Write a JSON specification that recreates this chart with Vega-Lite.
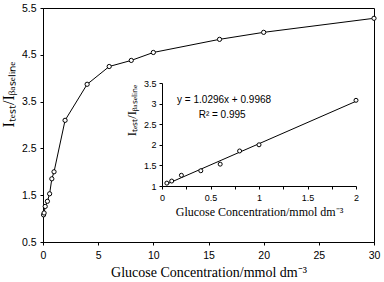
{
  "$schema": "https://vega.github.io/schema/vega-lite/v6.json",
  "width": 331,
  "height": 234,
  "autosize": "none",
  "padding": {"left": 43, "top": 8, "right": 10, "bottom": 40},
  "background": "white",
  "config": {
    "view": {"stroke": "black", "strokeWidth": 1},
    "axis": {
      "domainColor": "black", "tickColor": "black", "labelColor": "black", "titleColor": "black",
      "grid": false, "labelFont": "Liberation Sans", "titleFont": "Liberation Serif",
      "titleFontWeight": "normal", "tickSize": 3, "labelFlush": false, "labelOverlap": false
    }
  },
  "datasets": {
    "main": [
      {"c": 0.05, "r": 1.08}, {"c": 0.1, "r": 1.12}, {"c": 0.2, "r": 1.26}, {"c": 0.4, "r": 1.37},
      {"c": 0.6, "r": 1.53}, {"c": 0.8, "r": 1.85}, {"c": 1.0, "r": 2.0}, {"c": 2, "r": 3.1},
      {"c": 4, "r": 3.87}, {"c": 6, "r": 4.25}, {"c": 8, "r": 4.38}, {"c": 10, "r": 4.55},
      {"c": 16, "r": 4.83}, {"c": 20, "r": 4.98}, {"c": 30, "r": 5.28}
    ],
    "inset": [
      {"c": 0.05, "r": 1.07}, {"c": 0.1, "r": 1.12}, {"c": 0.2, "r": 1.26}, {"c": 0.4, "r": 1.37},
      {"c": 0.6, "r": 1.53}, {"c": 0.8, "r": 1.85}, {"c": 1.0, "r": 2.0}, {"c": 2, "r": 3.08}
    ],
    "fit": [{"c": 0.05, "r": 1.048}, {"c": 2, "r": 3.056}],
    "notes": [
      {"c": 0.64, "r": 3.08, "label": "y = 1.0296x + 0.9968"},
      {"c": 0.62, "r": 2.72, "label": "R² = 0.995"}
    ]
  },
  "layer": [
    {
      "layer": [
        {
          "data": {"name": "main"},
          "mark": {"type": "line", "color": "black", "strokeWidth": 1},
          "encoding": {
            "x": {"field": "c", "type": "quantitative",
              "scale": {"domain": [0, 30], "nice": false},
              "axis": {"orient": "bottom", "values": [0, 2.5, 5, 7.5, 10, 12.5, 15, 17.5, 20, 22.5, 25, 27.5, 30],
                "labelExpr": "datum.value % 5 == 0 ? format(datum.value, 'd') : ''",
                "labelFontSize": 10.5, "labelPadding": 5,
                "title": "Glucose Concentration/mmol dm⁻³", "titleFontSize": 14, "titlePadding": 5}},
            "y": {"field": "r", "type": "quantitative",
              "scale": {"domain": [0.5, 5.5], "nice": false, "zero": false},
              "axis": {"orient": "left", "values": [0.5, 1, 1.5, 2, 2.5, 3, 3.5, 4, 4.5, 5, 5.5],
                "labelExpr": "datum.value % 1 != 0 ? format(datum.value, '.1f') : ''",
                "labelFontSize": 10.5, "labelPadding": 4,
                "title": "Iₜₑₛₜ/Iᵦₐₛₑₗᵢₙₑ", "titleFontSize": 16, "titlePadding": 5,
                "titleY": 86}}
          }
        },
        {
          "data": {"name": "main"},
          "mark": {"type": "point", "shape": "circle", "filled": true, "fill": "white", "stroke": "black", "strokeWidth": 1, "size": 18, "opacity": 1},
          "encoding": {
            "x": {"field": "c", "type": "quantitative"},
            "y": {"field": "r", "type": "quantitative"}
          }
        }
      ]
    },
    {
      "layer": [
        {
          "mark": {"type": "rect", "fill": "white", "stroke": "black", "strokeWidth": 1},
          "encoding": {
            "x": {"datum": 0, "type": "quantitative",
              "scale": {"domain": [0, 2], "range": [119, 313], "nice": false},
              "axis": {"orient": "bottom", "offset": -56,
                "values": [0, 0.25, 0.5, 0.75, 1, 1.25, 1.5, 1.75, 2],
                "labelExpr": "datum.value % 0.5 == 0 ? format(datum.value, '~g') : ''",
                "labelFontSize": 9, "labelPadding": 4,
                "title": "Glucose Concentration/mmol dm⁻³", "titleFontSize": 12, "titlePadding": 4}},
            "x2": {"datum": 2},
            "y": {"datum": 1, "type": "quantitative",
              "scale": {"domain": [1, 3.5], "range": [178, 75], "nice": false, "zero": false},
              "axis": {"orient": "left", "offset": -119,
                "values": [1, 1.5, 2, 2.5, 3, 3.5],
                "labelExpr": "format(datum.value, '~g')",
                "labelFontSize": 9, "labelPadding": 3,
                "title": "Iₜₑₛₜ/Iᵦₐₛₑₗᵢₙₑ", "titleFontSize": 12.5, "titlePadding": 5,
                "titleY": 102}},
            "y2": {"datum": 3.5}
          }
        },
        {
          "data": {"name": "fit"},
          "mark": {"type": "line", "color": "black", "strokeWidth": 1},
          "encoding": {
            "x": {"field": "c", "type": "quantitative"},
            "y": {"field": "r", "type": "quantitative"}
          }
        },
        {
          "data": {"name": "inset"},
          "mark": {"type": "point", "shape": "circle", "filled": true, "fill": "white", "stroke": "black", "strokeWidth": 1, "size": 16, "opacity": 1},
          "encoding": {
            "x": {"field": "c", "type": "quantitative"},
            "y": {"field": "r", "type": "quantitative"}
          }
        },
        {
          "data": {"name": "notes"},
          "mark": {"type": "text", "font": "Liberation Sans", "fontSize": 10, "color": "black"},
          "encoding": {
            "x": {"field": "c", "type": "quantitative"},
            "y": {"field": "r", "type": "quantitative"},
            "text": {"field": "label"}
          }
        }
      ]
    }
  ],
  "resolve": {"scale": {"x": "independent", "y": "independent"}, "axis": {"x": "independent", "y": "independent"}}
}
